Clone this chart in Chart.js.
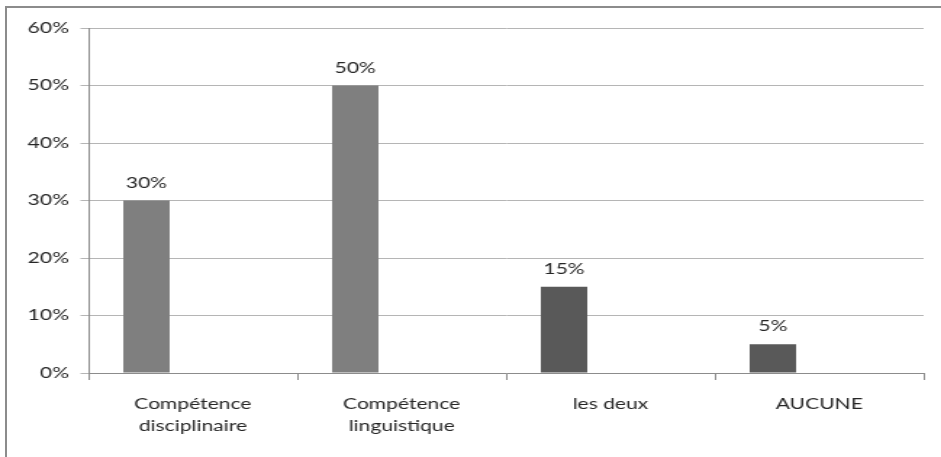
<!DOCTYPE html>
<html>
<head>
<meta charset="utf-8">
<script src="https://cdn.jsdelivr.net/npm/chart.js@4"></script>
<style>
  html, body { margin: 0; padding: 0; background: #fff; }
  #page { position: relative; width: 941px; height: 457px; overflow: hidden; }
  #cadre {
    position: absolute; left: 5px; top: 6px; right: 0; bottom: 0;
    border-left: 2px solid #8c8c8c; border-top: 2px solid #8c8c8c;
  }
  /* le graphique est dessiné plus étroit puis étiré en largeur */
  #zone {
    position: absolute; left: 0; top: 0; width: 649px; height: 457px;
    transform: scaleX(1.45); transform-origin: 0 0;
  }
</style>
</head>
<body>
<div id="page">
  <div id="cadre"></div>
  <div id="zone"><canvas id="graphique"></canvas></div>
</div>
<script>
const categories = [
  ["Compétence", "disciplinaire"],
  ["Compétence", "linguistique"],
  "les deux",
  "AUCUNE"
];
const pourcentages = [30, 50, 15, 5];
const couleurs = ["#7f7f7f", "#7f7f7f", "#595959", "#595959"];
const graduations = [0, 10, 20, 30, 40, 50, 60];

const police = { family: "Lato, 'Open Sans', sans-serif", size: 14.5, lineHeight: 1.55 };
const couleurTexte = "#262626";

// affiche la valeur au-dessus de chaque barre
const etiquettes = {
  id: "etiquettes",
  afterDatasetsDraw(chart) {
    const ctx = chart.ctx;
    const meta = chart.getDatasetMeta(0);
    ctx.save();
    ctx.font = `${police.size}px ${police.family}`;
    ctx.fillStyle = couleurTexte;
    ctx.textAlign = "center";
    ctx.textBaseline = "alphabetic";
    meta.data.forEach((barre, i) => {
      ctx.fillText(pourcentages[i] + "%", barre.x, barre.y - 13);
    });
    ctx.restore();
  }
};

new Chart(document.getElementById("graphique"), {
  type: "bar",
  data: {
    labels: categories,
    datasets: [
      { data: pourcentages, backgroundColor: couleurs },
      { data: pourcentages.map(() => null) },
      { data: pourcentages.map(() => null) }
    ]
  },
  options: {
    responsive: true,
    maintainAspectRatio: false,
    animation: false,
    // trois barres par catégorie, espacement de 150 %
    categoryPercentage: 3 / 4.5,
    barPercentage: 1,
    layout: { padding: { left: 0, right: 12, top: 28, bottom: 0 } },
    plugins: {
      legend: { display: false },
      tooltip: { enabled: false }
    },
    scales: {
      x: {
        grid: {
          display: true,
          offset: true,
          drawOnChartArea: false,
          drawTicks: true,
          tickLength: 7,
          color: "#8c8c8c"
        },
        border: { color: "#8c8c8c" },
        ticks: { color: couleurTexte, font: police, padding: 13, maxRotation: 0 },
        afterFit(scale) { scale.height = 84; }
      },
      y: {
        min: 0,
        max: 60,
        afterBuildTicks(scale) {
          scale.ticks = graduations.map(v => ({ value: v }));
        },
        grid: { color: "#b5b5b5", tickLength: 5.5, drawTicks: true },
        border: { color: "#8c8c8c" },
        ticks: {
          color: couleurTexte,
          font: { family: police.family, size: police.size },
          padding: 8,
          callback: v => v + "%"
        },
        afterFit(scale) { scale.width = 61; }
      }
    }
  },
  plugins: [etiquettes]
});
</script>
</body>
</html>
